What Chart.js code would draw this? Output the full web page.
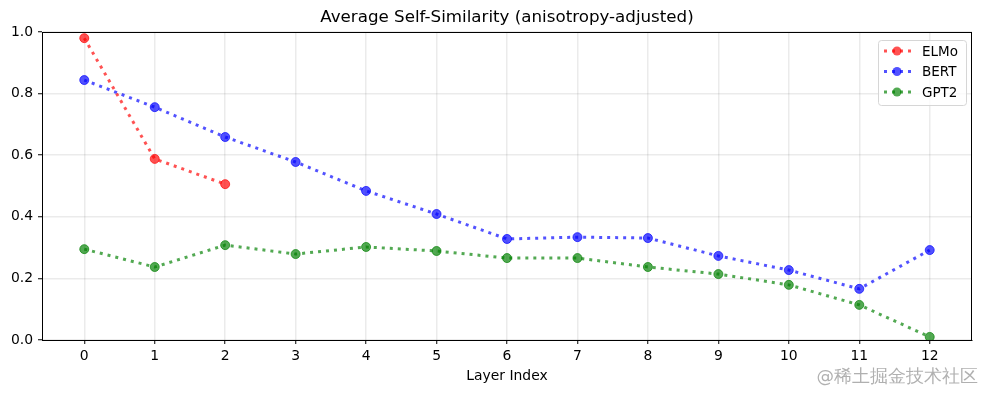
<!DOCTYPE html>
<html>
<head>
<meta charset="utf-8">
<script src="https://cdn.jsdelivr.net/npm/chart.js@4/dist/chart.umd.min.js"></script>
<style>
  html, body { margin: 0; padding: 0; background: #fff; }
  #wrap { width: 985px; height: 393px; position: relative; }
</style>
</head>
<body>
<div id="wrap"><canvas id="grafico"></canvas></div>
<script>
// DATOS
const capas = [0, 1, 2, 3, 4, 5, 6, 7, 8, 9, 10, 11, 12];
const elmo = [0.980, 0.588, 0.506];
const bert = [0.844, 0.756, 0.659, 0.578, 0.484, 0.409, 0.328, 0.334, 0.331, 0.273, 0.227, 0.166, 0.292];
const gpt2 = [0.295, 0.237, 0.308, 0.279, 0.302, 0.289, 0.266, 0.266, 0.237, 0.214, 0.179, 0.114, 0.010];
const yTicks = [0.0, 0.2, 0.4, 0.6, 0.8, 1.0];

const FONT = "'DejaVu Sans', sans-serif";

function puntos(valores){
    return valores.map((v, i) => ({ x: capas[i], y: v }));
}

function serie(label, valores, color){
    return {
        label: label,
        data: puntos(valores),
        borderColor: color,
        backgroundColor: color,
        borderWidth: 3,
        borderDash: [3, 5],
        pointRadius: 4.5,
        pointHoverRadius: 4.5,
        pointBorderWidth: 1,
        tension: 0
    };
}

const series = [
    serie('ELMo', elmo, 'rgba(255,0,0,0.68)'),
    serie('BERT', bert, 'rgba(0,0,255,0.68)'),
    serie('GPT2', gpt2, 'rgba(0,128,0,0.68)')
];

// titulo, marco y leyenda
const extras = {
    id: 'extras',
    afterDraw(chart){
        const ctx = chart.ctx;
        const a = chart.chartArea;
        ctx.save();
        // marco
        ctx.strokeStyle = '#000';
        ctx.lineWidth = 1;
        ctx.strokeRect(a.left + 0.5, a.top + 0.5, a.right - a.left - 1, a.bottom - a.top);
        // titulo
        ctx.fillStyle = '#000';
        ctx.font = '16.7px ' + FONT;
        ctx.textAlign = 'center';
        ctx.textBaseline = 'middle';
        ctx.fillText('Average Self-Similarity (anisotropy-adjusted)', (a.left + a.right) / 2, 18);
        // leyenda
        const bx = 878, by = 40, bw = 88, bh = 65;
        ctx.fillStyle = 'rgba(255,255,255,0.8)';
        ctx.strokeStyle = '#d6d6d6';
        ctx.beginPath();
        ctx.roundRect(bx + 0.5, by + 0.5, bw, bh, 3);
        ctx.fill();
        ctx.stroke();
        chart.data.datasets.forEach((ds, i) => {
            const y = by + 11 + i * 20.5;
            ctx.strokeStyle = ds.borderColor;
            ctx.lineWidth = 3;
            ctx.setLineDash([3, 5]);
            ctx.beginPath();
            ctx.moveTo(884, y);
            ctx.lineTo(912, y);
            ctx.stroke();
            ctx.setLineDash([]);
            ctx.fillStyle = ds.borderColor;
            ctx.beginPath();
            ctx.arc(897, y, 4.5, 0, Math.PI * 2);
            ctx.fill();
            ctx.fillStyle = '#000';
            ctx.font = '13.5px ' + FONT;
            ctx.textAlign = 'left';
            ctx.fillText(ds.label, 922, y + 1);
        });
        // marca de agua
        ctx.fillStyle = 'rgba(150,150,150,0.75)';
        ctx.font = '17.5px ' + FONT;
        ctx.textAlign = 'right';
        ctx.fillText('@稀土掘金技术社区', 978, 377);
        ctx.restore();
    }
};

new Chart(document.getElementById('grafico'), {
    type: 'line',
    data: { datasets: series },
    options: {
        responsive: true,
        maintainAspectRatio: false,
        animation: false,
        layout: { padding: { top: 32, right: 13, left: 0, bottom: 8 } },
        plugins: {
            legend: { display: false },
            title: { display: false },
            tooltip: { enabled: false }
        },
        scales: {
            x: {
                type: 'linear',
                min: -0.6,
                max: 12.6,
                afterBuildTicks: s => { s.ticks = capas.map(v => ({ value: v })); },
                afterFit: s => { s.height = 45; },
                grid: { color: 'rgba(0,0,0,0.08)', lineWidth: 1.5, tickLength: 4, tickColor: '#000', tickWidth: 1 },
                border: { color: '#000', width: 1 },
                ticks: { color: '#000', font: { family: FONT, size: 13.9 }, padding: 4, maxRotation: 0, callback: v => String(v) },
                title: { display: true, text: 'Layer Index', color: '#000', font: { family: FONT, size: 13.9 }, padding: { top: 0, bottom: 0 } }
            },
            y: {
                min: 0,
                max: 1,
                afterBuildTicks: s => { s.ticks = yTicks.map(v => ({ value: v })); },
                afterFit: s => { s.width = 42; },
                grid: { color: 'rgba(0,0,0,0.08)', lineWidth: 1.5, tickLength: 4, tickColor: '#000', tickWidth: 1 },
                border: { color: '#000', width: 1 },
                ticks: { color: '#000', font: { family: FONT, size: 13.9 }, padding: 5, callback: v => v.toFixed(1) }
            }
        }
    },
    plugins: [extras]
});
</script>
</body>
</html>
